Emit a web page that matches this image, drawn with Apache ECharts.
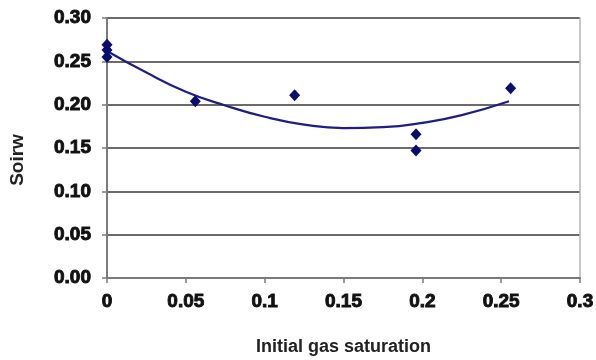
<!DOCTYPE html>
<html>
<head>
<meta charset="utf-8">
<script src="https://cdn.jsdelivr.net/npm/echarts@6/dist/echarts.min.js"></script>
<style>
  html, body { margin: 0; padding: 0; background: #fff; }
  #chart { width: 596px; height: 360px; }
</style>
</head>
<body>
<div id="chart"></div>
<script>
// Measured points: initial gas saturation vs. Soirw
const gasSaturation = [0, 0, 0, 0.056, 0.119, 0.196, 0.196, 0.256];
const soirw = [0.269, 0.263, 0.255, 0.204, 0.211, 0.166, 0.147, 0.219];

// Second-order trend curve, sampled along its length
const trendX = [0, 0.025, 0.05, 0.075, 0.1, 0.125, 0.15, 0.175, 0.2, 0.225, 0.255];
const trendY = [0.262, 0.237, 0.215, 0.199, 0.186, 0.177, 0.173, 0.174, 0.179, 0.188, 0.204];

const xTickLabels = ['0', '0.05', '0.1', '0.15', '0.2', '0.25', '0.3'];
const yTickLabels = ['0.00', '0.05', '0.10', '0.15', '0.20', '0.25', '0.30'];

const tickFont = {
  fontFamily: '"Liberation Sans", Arial, sans-serif',
  fontWeight: 'bold',
  fontSize: 19,
  color: '#111',
  textBorderColor: '#111',
  textBorderWidth: 0.9
};

const chart = echarts.init(document.getElementById('chart'), null, { renderer: 'canvas' });
chart.setOption({
  backgroundColor: '#ffffff',
  animation: false,
  grid: { left: 107, right: 16, top: 18, bottom: 82, outerBoundsMode: 'none', containLabel: false },
  xAxis: {
    type: 'value',
    min: 0, max: 0.3, interval: 0.05,
    name: 'Initial gas saturation',
    nameLocation: 'middle',
    nameGap: 60,
    nameTextStyle: { fontFamily: 'Liberation Sans, Arial, sans-serif', fontWeight: 'bold', fontSize: 18, color: '#222' },
    axisLine: { lineStyle: { color: '#7a7a7a', width: 2 } },
    axisTick: { show: true, length: 5, lineStyle: { color: '#7a7a7a', width: 1.5 } },
    splitLine: { show: false },
    axisLabel: Object.assign({ margin: 14, formatter: (v) => xTickLabels[Math.round(v / 0.05)] }, tickFont)
  },
  yAxis: [{
    type: 'value',
    min: 0, max: 0.3, interval: 0.05,
    name: 'Soirw',
    nameLocation: 'middle',
    nameGap: 80,
    nameTextStyle: { fontFamily: 'Liberation Sans, Arial, sans-serif', fontWeight: 'bold', fontSize: 19, color: '#222', padding: [0, 24, 0, 0] },
    axisLine: { show: true, lineStyle: { color: '#7a7a7a', width: 2 } },
    axisTick: { show: true, length: 5, lineStyle: { color: '#7a7a7a', width: 1.5 } },
    splitLine: { show: true, lineStyle: { color: '#3a3a3a', width: 1.5 } },
    axisLabel: Object.assign({ margin: 16, formatter: (v) => yTickLabels[Math.round(v / 0.05)] }, tickFont)
  }, {
    type: 'value',
    position: 'right',
    min: 0, max: 0.3, interval: 0.05,
    axisLine: { show: true, lineStyle: { color: '#b5b5b5', width: 1.5 } },
    axisTick: { show: false },
    axisLabel: { show: false },
    splitLine: { show: false }
  }],
  series: [{
    type: 'line',
    data: trendX.map((x, i) => [x, trendY[i]]),
    smooth: true,
    showSymbol: false,
    lineStyle: { color: '#1e1e84', width: 2.2 },
    z: 2
  }, {
    type: 'scatter',
    data: gasSaturation.map((x, i) => [x, soirw[i]]),
    symbol: 'diamond',
    symbolSize: [11, 12],
    itemStyle: { color: '#0c0c6e', opacity: 1 },
    z: 3
  }]
});
</script>
</body>
</html>
